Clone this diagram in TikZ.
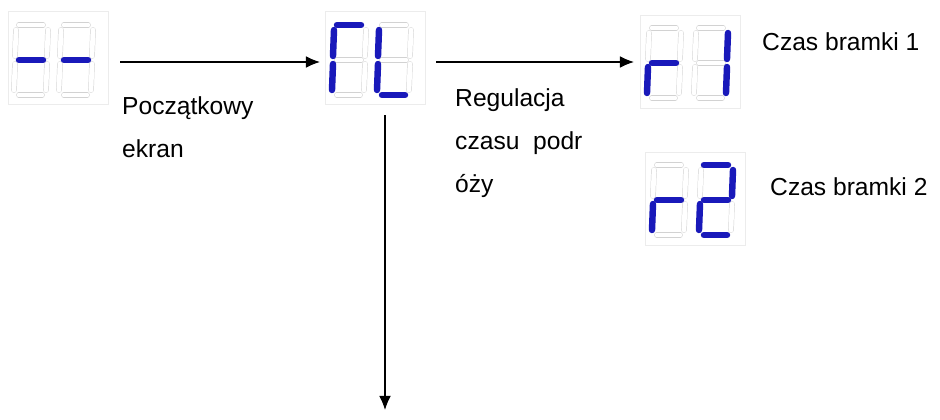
\documentclass[tikz,border=0pt]{standalone}
\usepackage{fontspec}
\setmainfont{Liberation Sans}
\usetikzlibrary{positioning,arrows.meta}

\tikzset{
  display/.style = {draw = gray!15, shape = rectangle, minimum width = 3cm, minimum height = 2.8cm},
  segoff/.style = {draw = gray!35, line width = 0.4pt, double = white, double distance = 4pt, line cap = round},
  segon/.style = {draw = blue!70!black!90!white, line width = 5.5pt, line cap = round},
  label/.style = {align = left, anchor = north west, font = \fontsize{21}{37}\selectfont, inner sep = 0pt},
  flow/.style = {-{Latex[length = 12pt, width = 10pt]}, line width = 1pt}
}

% one digit: origin at top-left, list of lit segments
\newcommand{\segdigit}[3]{%
  \begin{scope}[shift = {(#1,#2)}]
    \foreach \s/\p/\q in {a/{(4,0)}/{(28,0)}, b/{(33,5)}/{(32,31)}, c/{(32,39)}/{(31,65)},
                          d/{(4,70)}/{(27,70)}, e/{(0,39)}/{(-1,65)}, f/{(1,5)}/{(0,31)}, g/{(4,35)}/{(28,35)}}
      \draw[segoff] \p -- \q;
    \foreach \s/\p/\q in {#3}
      \draw[segon] \p -- \q;
  \end{scope}}

\begin{document}
\begin{tikzpicture}[x = 0.03cm, y = -0.03cm]
\useasboundingbox (0,0) rectangle (940,420);

\node[display] (start) at (58,58) {};
\node[display] (rl) at (375,58) {};
\node[display] (r1) at (690,62) {};
\node[display] (r2) at (695,199) {};

\segdigit{15}{25}{{g/{(4,35)}/{(28,35)}}}
\segdigit{60}{25}{{g/{(4,35)}/{(28,35)}}}
\segdigit{333}{25}{{a/{(4,0)}/{(28,0)}}, {f/{(1,5)}/{(0,31)}}, {e/{(0,39)}/{(-1,65)}}}
\segdigit{378}{25}{{f/{(1,5)}/{(0,31)}}, {e/{(0,39)}/{(-1,65)}}, {d/{(4,70)}/{(27,70)}}}
\segdigit{648}{28}{{g/{(4,35)}/{(28,35)}}, {e/{(0,39)}/{(-1,65)}}}
\segdigit{695}{28}{{b/{(33,5)}/{(32,31)}}, {c/{(32,39)}/{(31,65)}}}
\segdigit{653}{165}{{g/{(4,35)}/{(28,35)}}, {e/{(0,39)}/{(-1,65)}}}
\segdigit{700}{165}{{a/{(4,0)}/{(28,0)}}, {b/{(33,5)}/{(32,31)}}, {g/{(4,35)}/{(28,35)}}, {e/{(0,39)}/{(-1,65)}}, {d/{(4,70)}/{(27,70)}}}

\coordinate (out1) at (120,62);
\coordinate (in2) at (320,62);
\coordinate (out2) at (436,62);
\coordinate (in3) at (634,62);
\coordinate (top) at (385,115);
\coordinate (down) at (385,410);
\draw[flow] (out1) -- (in2);
\draw[flow] (out2) -- (in3);
\draw[flow] (top) -- (down);

\node[label] (t1) at (122,96) {Początkowy\\ekran};
\node[label] (t2) at (455,88) {Regulacja\\czasu \ podr\\óży};
\node[label] (t3) at (762,32) {Czas bramki 1};
\node[label] (t4) at (770,177) {Czas bramki 2};
\end{tikzpicture}
\end{document}
